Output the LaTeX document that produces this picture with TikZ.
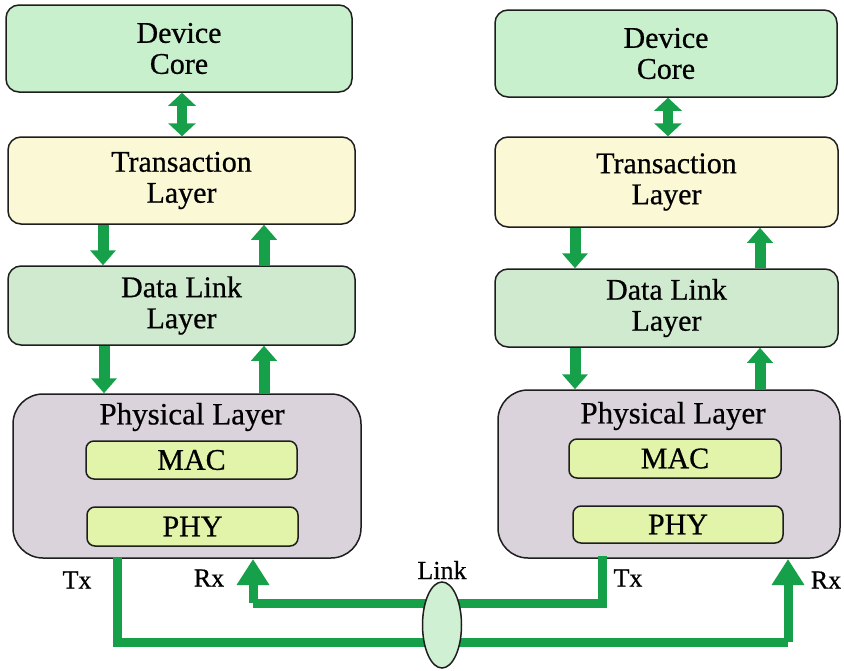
\documentclass[tikz,border=0pt]{standalone}
\usepackage{fontspec}
\setmainfont{Liberation Serif}[FakeBold=0.6]
\usetikzlibrary{arrows.meta,shapes.geometric}
\definecolor{arrgreen}{HTML}{17A04A}
\definecolor{corefill}{HTML}{C8F0CC}
\definecolor{transfill}{HTML}{FBF8D5}
\definecolor{dllfill}{HTML}{D0EAD0}
\definecolor{physfill}{HTML}{DAD3DC}
\definecolor{macfill}{HTML}{E2F4AA}
\definecolor{linkfill}{HTML}{CFF0D2}
\definecolor{edge}{HTML}{1E1E1E}
\begin{document}
\begin{tikzpicture}[x=1pt,y=-1pt,
  layerbox/.style={draw=edge,line width=1.5pt,rounded corners=13pt,inner sep=0pt,
    font=\fontsize{30}{31}\selectfont,align=center},
  subbox/.style={draw=edge,line width=1.5pt,rounded corners=8pt,fill=macfill,inner sep=0pt,
    font=\fontsize{30}{31}\selectfont},
  physbox/.style={draw=edge,line width=1.5pt,rounded corners=30pt,fill=physfill,inner sep=0pt},
  phystitle/.style={font=\fontsize{31}{33}\selectfont,inner sep=0pt},
  flow/.style={draw=arrgreen,line width=11pt,-{Triangle[width=25pt,length=15pt]}},
  bflow/.style={draw=arrgreen,line width=10pt,{Triangle[width=27pt,length=13pt]}-{Triangle[width=27pt,length=13pt]}},
  wire/.style={draw=arrgreen,line width=9pt,line join=miter},
  wirearrow/.style={wire,-{Triangle[width=31pt,length=26pt]}},
  lbl/.style={font=\fontsize{26}{28}\selectfont,inner sep=0pt}
]
\useasboundingbox (0,0) rectangle (844,670);
\fill[white] (0,0) rectangle (844,670);

% ---------- left stack ----------
\node[layerbox,fill=corefill,minimum width=346pt,minimum height=87pt] (LC) at (179,48.5) {Device\\Core};
\node[layerbox,fill=transfill,minimum width=347pt,minimum height=87pt] (LT) at (181.5,180.5) {Transaction\\Layer};
\node[layerbox,fill=dllfill,minimum width=347pt,minimum height=79pt] (LD) at (181.5,305.5) {Data Link\\Layer};
\node[physbox,minimum width=348pt,minimum height=164pt] (LP) at (187,476) {};
\node[phystitle] (LPt) at (192,417) {Physical Layer};
\node[subbox,minimum width=211pt,minimum height=38pt] (LM) at (191.5,460) {MAC};
\node[subbox,minimum width=211pt,minimum height=39pt] (LY) at (192.5,526.5) {PHY};

% ---------- right stack ----------
\node[layerbox,fill=corefill,minimum width=342pt,minimum height=87pt] (RC) at (666,53.5) {Device\\Core};
\node[layerbox,fill=transfill,minimum width=343pt,minimum height=90pt] (RT) at (666.5,182) {Transaction\\Layer};
\node[layerbox,fill=dllfill,minimum width=343pt,minimum height=78pt] (RD) at (666.5,308) {Data Link\\Layer};
\node[physbox,minimum width=342pt,minimum height=168pt] (RP) at (669,474) {};
\node[phystitle] (RPt) at (673,416) {Physical Layer};
\node[subbox,minimum width=212pt,minimum height=39pt] (RM) at (675,458.5) {MAC};
\node[subbox,minimum width=210pt,minimum height=37pt] (RY) at (678,524.5) {PHY};

% ---------- inter-layer arrows ----------
\draw[bflow] (LC.south -| 182,0) -- (LT.north -| 182,0);
\draw[flow] (LT.south -| 103,0) -- (LD.north -| 103,0);
\draw[flow] (LD.north -| 264,0) -- (LT.south -| 264,0);
\draw[flow] (LD.south -| 104,0) -- (LP.north -| 104,0);
\draw[flow] (LP.north -| 264,0) -- (LD.south -| 264,0);

\draw[bflow] (RC.south -| 668,0) -- (RT.north -| 668,0);
\draw[flow] (RT.south -| 575,0) -- (RD.north -| 575,0);
\draw[flow] (RD.north -| 760,0) -- (RT.south -| 760,0);
\draw[flow] (RD.south -| 575,0) -- (RP.north -| 575,0);
\draw[flow] (RP.north -| 760,0) -- (RD.south -| 760,0);

% ---------- link wiring ----------
\coordinate (LTx) at (117,557);
\coordinate (LRx) at (253,559);
\coordinate (RTx) at (602,556);
\coordinate (RRx) at (788,559);
\draw[wire] (LTx) |- (788,642) coordinate (lowR);
\draw[wirearrow] (lowR) -- (RRx);
\draw[wire] (RTx) |- (253,603) coordinate (upL);
\draw[wirearrow] (upL) -- (LRx);

\node[ellipse,draw=edge,line width=1.5pt,fill=linkfill,minimum width=39pt,minimum height=86pt,inner sep=0pt] (LK) at (442,625) {};
\node[lbl] (LKt) at (442,570) {Link};

\node[lbl] (tx1) at (77,580) {Tx};
\node[lbl] (rx1) at (209,578) {Rx};
\node[lbl] (tx2) at (628,578) {Tx};
\node[lbl] (rx2) at (826,580) {Rx};
\end{tikzpicture}
\end{document}
